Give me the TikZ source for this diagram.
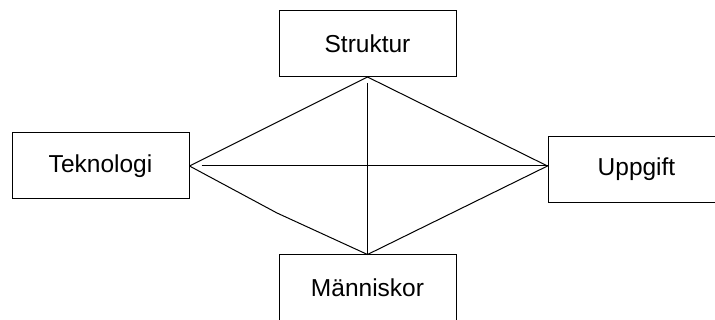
\documentclass[tikz,border=0pt]{standalone}
\usepackage{fontspec}
\setmainfont{Liberation Sans}
\begin{document}
\begin{tikzpicture}[x=1pt,y=-1pt,
  box/.style={draw, line width=1pt, minimum width=177pt, minimum height=66pt,
    inner sep=0pt, font=\fontsize{24.5}{28}\selectfont},
  link/.style={line width=1pt, line join=miter}]
  \clip (0,0) rectangle (715,320);
  \fill[white] (0,0) rectangle (715,320);
  % the four boxes
  \node[box] (struktur)  at (367.5,43.5) {Struktur};
  \node[box] (teknologi) at (100.5,166)  {Teknologi};
  \node[box] (uppgift)   at (636.5,169.5){Uppgift};
  \node[box] (manniskor) at (367.5,288)  {Människor};
  % meeting points of the links
  \coordinate (u) at (uppgift.west |- teknologi.east);
  \coordinate (kink) at (277,213);
  % outer diamond
  \draw[link] (teknologi.east) -- (struktur.south) -- (u)
              -- (manniskor.north) -- (kink) -- (teknologi.east);
  % cross inside
  \draw[link, shorten <=6pt] (struktur.south) -- (manniskor.north);
  \draw[link, shorten <=12pt] (teknologi.east) -- (u);
\end{tikzpicture}
\end{document}
